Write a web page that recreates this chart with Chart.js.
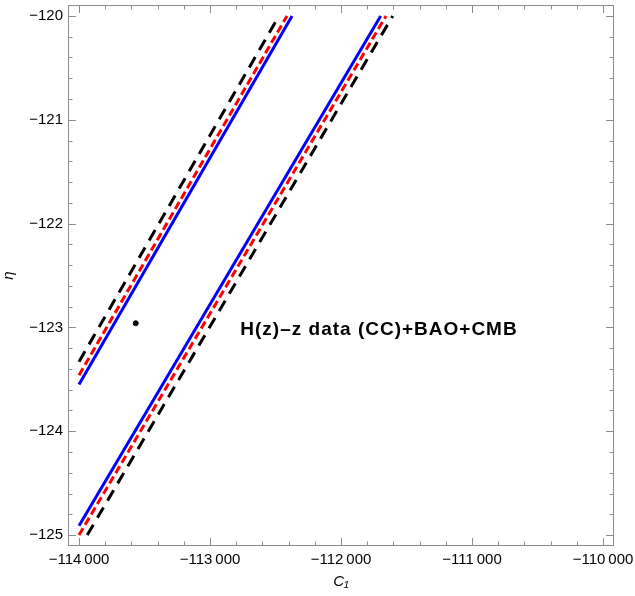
<!DOCTYPE html>
<html>
<head>
<meta charset="utf-8">
<script src="https://cdn.jsdelivr.net/npm/chart.js@4.4.0/dist/chart.umd.min.js"></script>
<style>
  body { margin: 0; background: #fff; }
  #wrap { width: 635px; height: 596px; }
</style>
</head>
<body>
<div id="wrap"><canvas id="contourChart"></canvas></div>
<script>
const xTicks = [-114000, -113000, -112000, -111000, -110000];
const yTicks = [-125, -124, -123, -122, -121, -120];

// contour edges, as [C1, eta]
const blueLeft = [[-114000, -123.55], [-112374, -120]];
const redLeft = [[-114000, -123.46], [-112412, -120]];
const blackLeft = [[-114000, -123.33], [-112473, -120]];
const blueRight = [[-114000, -124.91], [-111697, -120]];
const redRight = [[-114000, -125.0], [-111656, -120]];
const blackRight = [[-113937, -125.0], [-111605, -120]];
const bestFit = [[-113567, -122.96]];

const FONT = "'Liberation Sans', Arial, sans-serif";

const toXY = pts => pts.map(([x, y]) => ({ x, y }));

const fmt = v => {
  let s = Math.abs(v).toString();
  if (s.length > 4) s = s.slice(0, -3) + '\u2009' + s.slice(-3);
  return (v < 0 ? '\u2212' : '') + s;
};

const edge = (pts, color, dash) => ({
  data: toXY(pts),
  showLine: true,
  borderColor: color,
  borderWidth: 3,
  borderDash: dash,
  pointRadius: 0,
  fill: false
});

const framePlugin = {
  id: 'frame',
  afterDraw(chart) {
    const { ctx, chartArea: a, scales: { x, y } } = chart;
    ctx.save();
    ctx.strokeStyle = '#8c8c8c';
    ctx.lineWidth = 1;
    ctx.strokeRect(a.left + 0.5, a.top + 0.5, a.right - a.left - 1, a.bottom - a.top - 1);

    const tickX = (v, len) => {
      const px = Math.round(x.getPixelForValue(v)) + 0.5;
      ctx.beginPath();
      ctx.moveTo(px, a.bottom); ctx.lineTo(px, a.bottom - len);
      ctx.moveTo(px, a.top); ctx.lineTo(px, a.top + len);
      ctx.stroke();
    };
    const tickY = (v, len) => {
      const py = Math.round(y.getPixelForValue(v)) + 0.5;
      ctx.beginPath();
      ctx.moveTo(a.left, py); ctx.lineTo(a.left + len, py);
      ctx.moveTo(a.right, py); ctx.lineTo(a.right - len, py);
      ctx.stroke();
    };
    xTicks.forEach((v, i) => {
      tickX(v, 8);
      if (i < xTicks.length - 1) {
        const step = (xTicks[i + 1] - v) / 5;
        for (let k = 1; k < 5; k++) tickX(v + k * step, 4.5);
      }
    });
    yTicks.forEach((v, i) => {
      tickY(v, 8);
      if (i < yTicks.length - 1) {
        const step = (yTicks[i + 1] - v) / 5;
        for (let k = 1; k < 5; k++) tickY(v + k * step, 4.5);
      }
    });

    // data-set label inside the plot
    ctx.fillStyle = '#000';
    ctx.font = 'bold 19px ' + FONT;
    ctx.letterSpacing = '1px';
    ctx.textAlign = 'center';
    ctx.textBaseline = 'middle';
    ctx.fillText('H(z)\u2013z data (CC)+BAO+CMB', x.getPixelForValue(-111710), y.getPixelForValue(-123.02));
    ctx.restore();
  }
};

new Chart('contourChart', {
  type: 'scatter',
  data: {
    datasets: [
      edge(blackLeft, '#000000', [12, 8]),
      edge(redLeft, '#ff0000', [8, 4]),
      edge(blueLeft, '#0000ff', []),
      edge(blackRight, '#000000', [12, 8]),
      edge(redRight, '#ff0000', [8, 4]),
      edge(blueRight, '#0000ff', []),
      {
        data: toXY(bestFit),
        backgroundColor: '#000',
        borderColor: '#000',
        pointRadius: 2.5,
        showLine: false
      }
    ]
  },
  options: {
    animation: false,
    maintainAspectRatio: false,
    layout: { padding: { left: 0, right: 21, top: 0, bottom: 0 } },
    plugins: {
      legend: { display: false },
      tooltip: { enabled: false }
    },
    scales: {
      x: {
        type: 'linear',
        min: -114084,
        max: -109916,
        afterBuildTicks: s => { s.ticks = xTicks.map(v => ({ value: v })); },
        afterFit: s => { s.height = 50; s.paddingLeft = 0; s.paddingRight = 0; },
        grid: { display: false, drawTicks: false },
        border: { display: false },
        ticks: {
          padding: 5,
          color: '#000',
          maxRotation: 0,
          autoSkip: false,
          font: { family: FONT, size: 15 },
          callback: v => fmt(v)
        },
        title: {
          display: true,
          text: 'C\u2081',
          color: '#000',
          font: { family: FONT, size: 15, style: 'italic' },
          padding: { top: 0, bottom: 5 }
        }
      },
      y: {
        type: 'linear',
        min: -125.105,
        max: -119.895,
        afterBuildTicks: s => { s.ticks = yTicks.map(v => ({ value: v })); },
        afterFit: s => { s.width = 68; s.paddingTop = 0; s.paddingBottom = 0; },
        grid: { display: false, drawTicks: false },
        border: { display: false },
        ticks: {
          padding: 5,
          color: '#000',
          autoSkip: false,
          font: { family: FONT, size: 15 },
          callback: v => fmt(v)
        },
        title: {
          display: true,
          text: '\u03b7',
          color: '#000',
          font: { family: FONT, size: 15, style: 'italic' },
          padding: { top: 0, bottom: 0 }
        }
      }
    }
  },
  plugins: [framePlugin]
});
</script>
</body>
</html>
